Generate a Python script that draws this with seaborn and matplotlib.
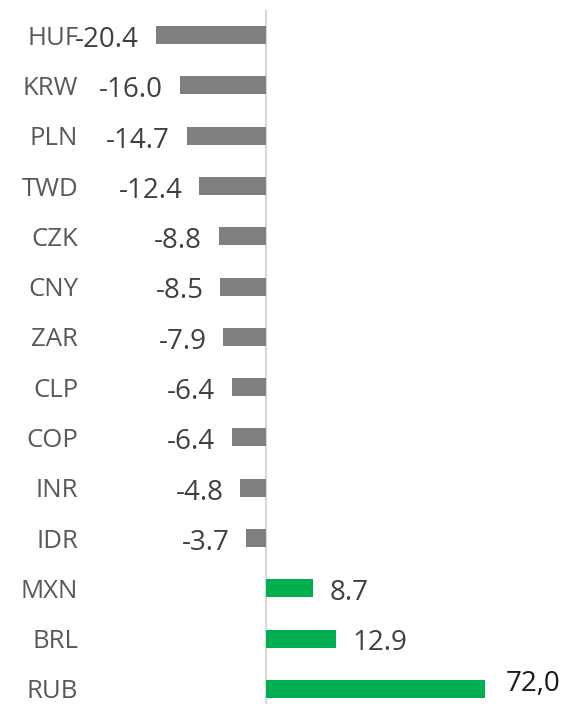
import pandas as pd
import matplotlib.pyplot as plt
import seaborn as sns

# --- Data ---
currencies = ['HUF', 'KRW', 'PLN', 'TWD', 'CZK', 'CNY', 'ZAR', 'CLP',
              'COP', 'INR', 'IDR', 'MXN', 'BRL', 'RUB']
changes = [-20.4, -16.0, -14.7, -12.4, -8.8, -8.5, -7.9, -6.4,
           -6.4, -4.8, -3.7, 8.7, 12.9, 72.0]
value_labels = ['-20.4', '-16.0', '-14.7', '-12.4', '-8.8', '-8.5', '-7.9', '-6.4',
                '-6.4', '-4.8', '-3.7', '8.7', '12.9', '72,0']

df = pd.DataFrame({'currency': currencies, 'change': changes, 'label': value_labels})
df['sign'] = ['up' if v > 0 else 'down' for v in df['change']]

# --- Plot ---
sns.set_style('white')
plt.rcParams['font.family'] = ['Open Sans', 'DejaVu Sans']

fig = plt.figure(figsize=(5.64, 7.04), dpi=100)
ax = fig.add_axes([88 / 564, -10 / 704, (485 - 88) / 564, 704 / 704])

sns.barplot(
    data=df, x='change', y='currency', hue='sign', orient='h',
    palette={'down': '#7F7F7F', 'up': '#00B050'}, saturation=1,
    width=0.36, dodge=False, legend=False, ax=ax, linewidth=0,
)

ax.set_xlim(-32.9, 40.4)
ax.set_ylim(13.5, -0.5)
ax.axvline(0, color='#D9D9D9', lw=1.6, zorder=0)

for i, row in df.iterrows():
    v = row['change']
    if v < 0:
        ax.annotate(row['label'], (v, i), xytext=(-12, -1), textcoords='offset points',
                    ha='right', va='center_baseline', fontsize=20, color='#404040')
    elif row['currency'] == 'RUB':
        ax.annotate(row['label'], (40.4, i), xytext=(15, 6), textcoords='offset points',
                    ha='left', va='center_baseline', fontsize=20, color='#1A1A1A',
                    annotation_clip=False)
    else:
        ax.annotate(row['label'], (v, i), xytext=(12, -1), textcoords='offset points',
                    ha='left', va='center_baseline', fontsize=20, color='#404040')

ax.set_xlabel('')
ax.set_ylabel('')
ax.set_xticks([])
ax.tick_params(axis='y', length=0, pad=7, labelsize=18.5, labelcolor='#595959')
sns.despine(ax=ax, left=True, bottom=True)

fig.savefig('out.png', dpi=100)
